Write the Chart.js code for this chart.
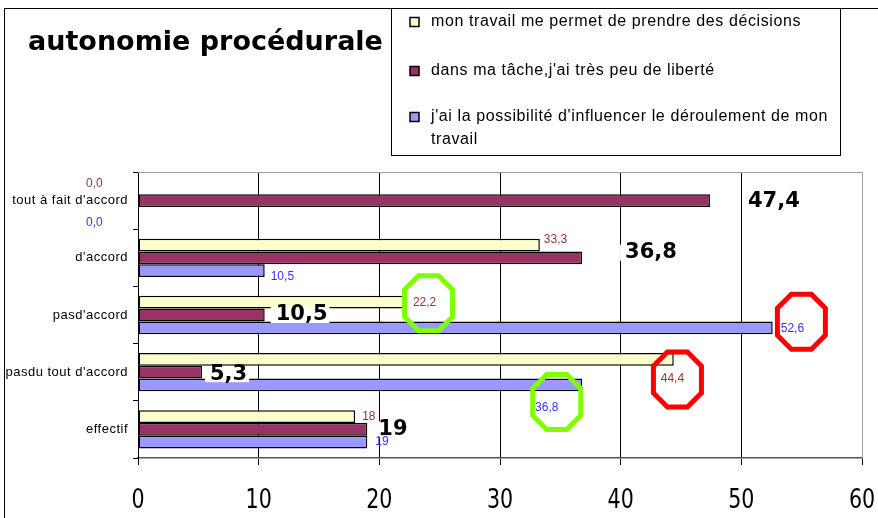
<!DOCTYPE html>
<html>
<head>
<meta charset="utf-8">
<script src="https://cdn.jsdelivr.net/npm/chart.js@4.4.0/dist/chart.umd.min.js"></script>
<style>
  html, body { margin: 0; padding: 0; background: #fff; }
  #wrap { width: 878px; height: 518px; position: relative; }
</style>
</head>
<body>
<div id="wrap"><canvas id="mycanvas" width="878" height="518"></canvas></div>
<script>
// chart data
var chartTitle = "autonomie procédurale";
var categories = ["tout à fait d'accord", "d'accord", "pasd'accord", "pasdu tout d'accord", "effectif"];
var seriesNames = [
  "mon travail me permet de prendre des décisions",
  "dans ma tâche,j'ai très peu de liberté",
  "j'ai la possibilité d'influencer le déroulement de mon travail"
];
var decisions = [0, 33.3, 22.2, 44.4, 18];
var peuLiberte = [47.4, 36.8, 10.5, 5.3, 19];
var influencer = [0, 10.5, 52.6, 36.8, 19];
var xTicks = [0, 10, 20, 30, 40, 50, 60];
var labelDecimals = [1, 1, 1, 1, 0];

var colors = ["#ffffcc", "#993366", "#9999ff"];

function fmt(v, j) {
  return labelDecimals[j] ? v.toFixed(1).replace(".", ",") : String(v);
}

// little shifts for the value labels, like they were moved by hand in the sheet
var labelNudge = [
  [[-52, -4], [4, -5], [7, 0], [-13, 19], [7, 0]],
  [[38, 1], [43, -5], [11, 0], [8, 2], [11, 0]],
  [[-52, 9], [6, 6], [8, 1], [-47, 23], [8, 0]]
];
var highlights = [
  {ds: 0, i: 2, color: "#80ff00", dx: 4, dy: 1},
  {ds: 2, i: 3, color: "#80ff00", dx: 10, dy: -6},
  {ds: 2, i: 2, color: "#ff0000", dx: 9, dy: -7},
  {ds: 0, i: 3, color: "#ff0000", dx: 5, dy: 1}
];

function octagon(ctx, cx, cy, w, h, c) {
  var l = cx - w / 2, r = cx + w / 2, t = cy - h / 2, b = cy + h / 2;
  ctx.beginPath();
  ctx.moveTo(l + c, t);
  ctx.lineTo(r - c, t);
  ctx.lineTo(r, t + c);
  ctx.lineTo(r, b - c);
  ctx.lineTo(r - c, b);
  ctx.lineTo(l + c, b);
  ctx.lineTo(l, b - c);
  ctx.lineTo(l, t + c);
  ctx.closePath();
  ctx.stroke();
}

var decor = {
  id: "decor",
  beforeDraw: function(chart) {
    var ctx = chart.ctx;
    ctx.save();
    ctx.fillStyle = "#fff";
    ctx.fillRect(0, 0, chart.width, chart.height);
    ctx.restore();
    // excel spreads the axis letters a bit
    ctx.letterSpacing = "0.5px";
  },
  afterDatasetsDraw: function(chart) {
    var ctx = chart.ctx;
    var a = chart.chartArea;
    ctx.save();
    ctx.letterSpacing = "0px";

    // plot border top / right
    ctx.strokeStyle = "#a0a0a0";
    ctx.lineWidth = 1;
    ctx.beginPath();
    ctx.moveTo(a.left, a.top + 0.5);
    ctx.lineTo(a.right + 0.5, a.top + 0.5);
    ctx.lineTo(a.right + 0.5, a.bottom);
    ctx.stroke();

    // x tick labels (narrow tall digits)
    var xs = chart.scales.x;
    ctx.fillStyle = "#000";
    ctx.font = "26px 'DejaVu Sans Condensed', 'DejaVu Sans', sans-serif";
    ctx.textAlign = "center";
    ctx.textBaseline = "alphabetic";
    xTicks.forEach(function(v) {
      var px = xs.getPixelForValue(v);
      ctx.save();
      ctx.translate(px, 508);
      ctx.scale(0.88, 1);
      ctx.fillText(String(v), 0, 0);
      ctx.restore();
    });

    // outer frame
    ctx.strokeStyle = "#000";
    ctx.strokeRect(4.5, 8.5, chart.width + 10, chart.height + 10);

    // title
    ctx.fillStyle = "#000";
    ctx.font = "bold 27px 'DejaVu Sans', sans-serif";
    ctx.textBaseline = "middle";
    ctx.textAlign = "left";
    ctx.fillText(chartTitle, 28, 43);

    // legend box
    ctx.fillStyle = "#fff";
    ctx.fillRect(391, 8.5, 450, 147);
    ctx.strokeStyle = "#000";
    ctx.strokeRect(391.5, 8.5, 449, 147);
    var rows = [[22], [71], [117, 140]];
    var lines = [[seriesNames[0]], [seriesNames[1]], ["j'ai la possibilité d'influencer le déroulement de mon", "travail"]];
    ctx.font = "16px 'Liberation Sans', Arial, sans-serif";
    ctx.letterSpacing = "0.6px";
    for (var k = 0; k < 3; k++) {
      ctx.fillStyle = colors[k];
      ctx.fillRect(410, rows[k][0] - 4.5, 9, 9);
      ctx.strokeStyle = "#000";
      ctx.lineWidth = 1.5;
      ctx.strokeRect(410, rows[k][0] - 4.5, 9, 9);
      ctx.fillStyle = "#000";
      for (var m = 0; m < lines[k].length; m++) {
        ctx.fillText(lines[k][m], 431, rows[k][m]);
      }
    }
    ctx.letterSpacing = "0px";

    // value labels
    for (var d = 0; d < 3; d++) {
      var meta = chart.getDatasetMeta(d);
      var vals = chart.data.datasets[d].data;
      meta.data.forEach(function(bar, j) {
        var txt = fmt(vals[j], j);
        var x = bar.x + labelNudge[d][j][0];
        var y = bar.y + labelNudge[d][j][1];
        ctx.textAlign = "left";
        ctx.textBaseline = "middle";
        if (d === 1) {
          ctx.font = "bold 21px 'DejaVu Sans', sans-serif";
          var w = ctx.measureText(txt).width;
          ctx.fillStyle = "#fff";
          ctx.fillRect(x - 5, y - 8, w + 7, 16);
          ctx.fillStyle = "#000";
        } else {
          ctx.font = "12px 'Liberation Sans', Arial, sans-serif";
          ctx.fillStyle = d === 0 ? "#993333" : "#3333ff";
        }
        ctx.fillText(txt, x, y);
      });
    }

    // circled values
    ctx.lineWidth = 5;
    highlights.forEach(function(h) {
      var bar = chart.getDatasetMeta(h.ds).data[h.i];
      var txt = fmt(chart.data.datasets[h.ds].data[h.i], h.i);
      ctx.font = "12px 'Liberation Sans', Arial, sans-serif";
      var w = ctx.measureText(txt).width;
      var cx = bar.x + labelNudge[h.ds][h.i][0] + w / 2 + h.dx;
      var cy = bar.y + labelNudge[h.ds][h.i][1] + h.dy;
      ctx.strokeStyle = h.color;
      octagon(ctx, cx, cy, 48, 55, 14);
    });

    ctx.restore();
  }
};

var chartdata = {
  labels: categories,
  datasets: [
    {label: seriesNames[0], data: decisions, backgroundColor: colors[0]},
    {label: seriesNames[1], data: peuLiberte, backgroundColor: colors[1]},
    {label: seriesNames[2], data: influencer, backgroundColor: colors[2]}
  ]
};
chartdata.datasets.forEach(function(ds) {
  ds.borderColor = "#000";
  ds.borderWidth = 1.5;
  ds.borderSkipped = false;
  ds.barPercentage = 1;
  ds.categoryPercentage = 0.67;
});

var ctx = document.getElementById("mycanvas");
var barGraph = new Chart(ctx, {
  type: "bar",
  data: chartdata,
  plugins: [decor],
  options: {
    indexAxis: "y",
    responsive: false,
    animation: false,
    layout: {padding: {top: 172, right: 16, bottom: 0, left: 0}},
    plugins: {legend: {display: false}, title: {display: false}, tooltip: {enabled: false}},
    scales: {
      x: {
        min: xTicks[0],
        max: xTicks[xTicks.length - 1],
        afterBuildTicks: function(scale) {
          scale.ticks = xTicks.map(function(v) { return {value: v}; });
        },
        afterFit: function(scale) { scale.height = 60; },
        grid: {
          color: function(c) { return c.tick && c.tick.value === 60 ? "#a0a0a0" : "#000"; },
          tickColor: "#000",
          tickLength: 7,
          lineWidth: 1
        },
        border: {color: "#555", width: 1.5},
        ticks: {display: false}
      },
      y: {
        afterFit: function(scale) { scale.width = 138; },
        grid: {drawOnChartArea: false, drawTicks: true, tickLength: 5, color: "#000"},
        border: {color: "#000", width: 1},
        ticks: {
          color: "#000",
          padding: 5,
          font: {family: "'Liberation Sans', Arial, sans-serif", size: 13}
        }
      }
    }
  }
});
</script>
</body>
</html>
